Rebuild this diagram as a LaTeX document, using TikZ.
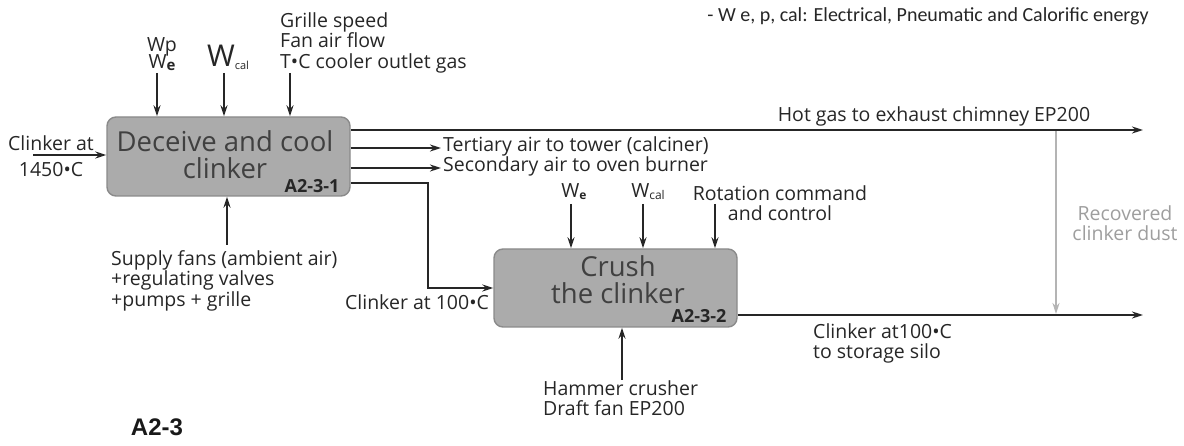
\documentclass[tikz,border=0pt]{standalone}
\usepackage{fontspec}
\setmainfont{Open Sans}
\newfontfamily\legendfont{Carlito}
\newfontfamily\tagfont{Liberation Sans}
\usetikzlibrary{arrows.meta}
\definecolor{txt}{HTML}{262626}
\definecolor{boxfill}{HTML}{ABABAB}
\definecolor{boxline}{HTML}{8A8A8A}
\definecolor{dust}{HTML}{B4B4B4}
\begin{document}
\begin{tikzpicture}[x=1pt,y=-1pt,
  flow/.style={line width=2.6pt, draw=black!85, -{Stealth[length=11pt,width=7pt]}},
  grayflow/.style={line width=2.6pt, draw=dust, -{Stealth[length=11pt,width=7pt]}},
  proc/.style={draw=boxline, line width=1.4pt, fill=boxfill, rounded corners=9pt, inner sep=0},
  lbl/.style={font=\fontsize{19.5}{20.5}\selectfont, text=txt, inner sep=0, align=left},
  big/.style={font=\fontsize{27.5}{27}\selectfont, text=black!75, inner sep=0, align=center},
  tag/.style={font=\fontsize{18}{18}\selectfont\bfseries, text=black!85, inner sep=0},
]
\useasboundingbox (0,0) rectangle (1184,446);
% process boxes
\node[proc, minimum width=243pt, minimum height=79pt] (b1) at (228.5,156.5) {};
\node[proc, minimum width=243pt, minimum height=78pt] (b2) at (615.5,288) {};
\node[big] (b1t) at (225,154.5) {Deceive and cool\\clinker};
\node[big] (b2t) at (618,279.5) {Crush\\the clinker};
\node[tag] (b1tag) at (312,186) {A2-3-1};
\node[tag] (b2tag) at (699,316) {A2-3-2};

% legend and title
\node[font=\legendfont\fontsize{20}{22}\selectfont, text=txt, inner sep=0] (leg) at (928,16) {- W e, p, cal: Electrical, Pneumatic and Calorific energy};
\node[font=\tagfont\fontsize{24}{26}\selectfont\bfseries, text=black!90, inner sep=0] (title) at (157,427) {A2-3};

% inputs of box 1
\node[lbl, align=center] (wpe) at (162,54) {Wp\\[-3pt]W\raisebox{-2pt}{\fontsize{15}{15}\selectfont\bfseries e}};
\node[lbl] (wcal) at (228,57) {\fontsize{30}{30}\selectfont W\raisebox{-3pt}{\fontsize{11}{11}\selectfont cal}};
\node[lbl, anchor=north west] (ctrl1) at (280,12) {Grille speed\\Fan air flow\\T•C cooler outlet gas};
\coordinate (t1) at (157,73);
\coordinate (t2) at (224,73);
\coordinate (t3) at (290,73);
\draw[flow] (t1) -- (t1 |- b1.north);
\draw[flow] (t2) -- (t2 |- b1.north);
\draw[flow] (t3) -- (t3 |- b1.north);

\node[lbl, align=center] (cin1) at (51,143) {Clinker at};
\node[lbl, align=center] (cin2) at (51,170) {1450•C};
\coordinate (cin) at (33,155);
\draw[flow] (cin) -- (cin -| b1.west);

\node[lbl, anchor=north west] (sup) at (111,250) {Supply fans (ambient air)\\+regulating valves\\+pumps + grille};
\coordinate (s1) at (227,245);
\draw[flow] (s1) -- (s1 |- b1.south);

% outputs of box 1
\coordinate (hot) at (1143,130);
\coordinate (tert) at (441,148);
\coordinate (sec) at (441,168);
\coordinate (c1) at (428,183);
\coordinate (c2) at (428,288);
\draw[flow] (b1.east |- hot) -- (hot);
\draw[flow] (b1.east |- tert) -- (tert);
\draw[flow] (b1.east |- sec) -- (sec);
\draw[flow] (b1.east |- c1) -- (c1) -- (c2) -- (c2 -| b2.west);
\node[lbl] (hotl) at (934,116) {Hot gas to exhaust chimney EP200};
\node[lbl, anchor=west] (tertl) at (443,146) {Tertiary air to tower (calciner)};
\node[lbl, anchor=west] (secl) at (443,166) {Secondary air to oven burner};
\node[lbl] (c100) at (417,302) {Clinker at 100•C};

% inputs of box 2
\node[lbl] (we2) at (574,192) {W\raisebox{-2pt}{\fontsize{12}{12}\selectfont\bfseries e}};
\node[lbl] (wcal2) at (648,192) {W\raisebox{-2pt}{\fontsize{12}{12}\selectfont cal}};
\node[lbl, align=center] (rot) at (780,203) {Rotation command\\and control};
\coordinate (u1) at (571,204);
\coordinate (u2) at (643,204);
\coordinate (u3) at (715,204);
\draw[flow] (u1) -- (u1 |- b2.north);
\draw[flow] (u2) -- (u2 |- b2.north);
\draw[flow] (u3) -- (u3 |- b2.north);

\node[lbl, anchor=north west] (ham) at (543,380) {Hammer crusher\\Draft fan EP200};
\coordinate (h1) at (622,380);
\draw[flow] (h1) -- (h1 |- b2.south);

% outputs of box 2
\coordinate (out) at (1143,315);
\draw[flow] (b2.east |- out) -- (out);
\node[lbl, anchor=north west] (outl) at (813,323) {Clinker at100•C\\to storage silo};

% recovered dust
\coordinate (g1) at (1056,131);
\coordinate (g2) at (1056,314);
\draw[grayflow] (g1) -- (g2);
\node[lbl, align=center, text=black!38] (dustl) at (1125,223) {Recovered\\clinker dust};
\end{tikzpicture}
\end{document}
